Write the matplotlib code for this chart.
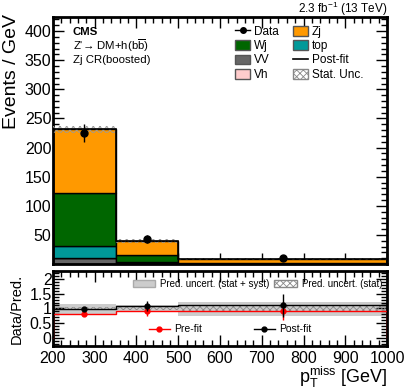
import numpy as np
import matplotlib
matplotlib.use("Agg")
import matplotlib.pyplot as plt
from matplotlib.ticker import MultipleLocator
from matplotlib.patches import Patch
from matplotlib.lines import Line2D

plt.rcParams['font.family'] = ['Liberation Sans', 'DejaVu Sans']
plt.rcParams['mathtext.fontset'] = 'custom'
plt.rcParams['mathtext.rm'] = 'Liberation Sans'
plt.rcParams['mathtext.it'] = 'Liberation Sans:italic'
plt.rcParams['hatch.color'] = '#888888'
plt.rcParams['hatch.linewidth'] = 0.6

# ---- data ----
bin_edges = [200, 350, 500, 1000]
bin_centers = [275, 425, 750]
bkg_names = ["VV", "Vh", "top", "Wj", "Zj"]
vv = [10, 1.0, 0.2]
vh = [0.5, 0.2, 0.05]
top = [21, 2.5, 0.5]
wj = [91, 11.3, 1.8]
zj = [109, 24, 6.0]
stat_unc = [6, 3.5, 1.0]
data_vals = [225, 43, 10.5]
data_errs = [15.5, 6.5, 1.5]

ratio_post = [0.97, 1.07, 1.10]
ratio_post_err = [0.06, 0.17, 0.37]
ratio_pre = [0.81, 0.90, 0.91]
ratio_pre_err = [0.05, 0.15, 0.30]
band_syst_lo = [0.80, 0.90, 0.75]
band_syst_hi = [1.16, 1.10, 1.22]
band_stat = [0.04, 0.06, 0.10]

colors = {"VV": "#666666", "Vh": "#ffcccc", "top": "#009999", "Wj": "#006600", "Zj": "#ff9900"}

fig = plt.figure(figsize=(4.07, 3.89), dpi=100)
ax = fig.add_axes([0.130, 0.321, 0.821, 0.635])
rx = fig.add_axes([0.130, 0.111, 0.821, 0.192])

edges = np.array(bin_edges, dtype=float)
widths = np.diff(edges)
bottom = np.zeros(3)
for name, vals in zip(bkg_names, [vv, vh, top, wj, zj]):
    vals = np.array(vals, dtype=float)
    ax.bar(edges[:-1], vals, width=widths, bottom=bottom, align='edge',
           color=colors[name], edgecolor='black', linewidth=1.0, zorder=2)
    bottom = bottom + vals
total = bottom
su = np.array(stat_unc)
ax.bar(edges[:-1], 2 * su, width=widths, bottom=total - su, align='edge',
       facecolor='none', edgecolor='#999999', hatch='xxxxx', linewidth=0, zorder=3)
ax.stairs(total, edges, color='black', linewidth=1.2, zorder=4)
ax.errorbar(bin_centers, data_vals, yerr=data_errs, fmt='o', color='black',
            markersize=5, elinewidth=1, capsize=0, zorder=5)

ax.set_xlim(200, 1000)
ax.set_ylim(0.01, 424)
ax.set_yticks([50, 100, 150, 200, 250, 300, 350, 400])
ax.yaxis.set_minor_locator(MultipleLocator(10))
ax.xaxis.set_major_locator(MultipleLocator(100))
ax.xaxis.set_minor_locator(MultipleLocator(20))
ax.tick_params(axis='both', which='both', direction='in', top=True, right=True)
ax.tick_params(which='major', length=8, width=1)
ax.tick_params(which='minor', length=4, width=1)
ax.tick_params(axis='y', labelsize=11.5, pad=1)
ax.tick_params(axis='x', labelbottom=False)
for s in ax.spines.values():
    s.set_linewidth(2)
ax.set_ylabel("Events / GeV", fontsize=14)
ax.yaxis.set_label_coords(-0.099, 0.78)

ax.text(0.06, 0.940, "CMS", transform=ax.transAxes, fontsize=8.2, fontweight='bold', va='center')
ax.text(0.06, 0.884, "Z'\u2192 DM+h(b$\\overline{\\mathrm{b}}$)", transform=ax.transAxes,
        fontsize=8.2, va='center')
ax.text(0.06, 0.826, "Zj CR(boosted)", transform=ax.transAxes, fontsize=8.2, va='center')
fig.text(0.951, 0.978, r"2.3 fb$^{-1}$ (13 TeV)", ha='right', va='center', fontsize=8.5)

# column-major order for a 2-column legend
handles = [
    Line2D([], [], color='black', marker='o', markersize=4, linewidth=1),
    Patch(facecolor=colors["Wj"], edgecolor='#555555'),
    Patch(facecolor=colors["VV"], edgecolor='#555555'),
    Patch(facecolor=colors["Vh"], edgecolor='#555555'),
    Patch(facecolor=colors["Zj"], edgecolor='#555555'),
    Patch(facecolor=colors["top"], edgecolor='#555555'),
    Line2D([], [], color='black', linewidth=1.2),
    Patch(facecolor='white', edgecolor='#888888', hatch='xxxxx'),
]
labels = ["Data", "Wj", "VV", "Vh", "Zj", "top", "Post-fit", "Stat. Unc."]
ax.legend(handles, labels, ncol=2, loc='upper left', bbox_to_anchor=(0.545, 0.965),
          frameon=False, fontsize=8.5, handlelength=1.3, handleheight=0.9,
          handletextpad=0.3, columnspacing=1.2, labelspacing=0.2, borderaxespad=0, borderpad=0)

# ---- ratio ----
for i in range(3):
    rx.fill_between([edges[i], edges[i + 1]], band_syst_lo[i], band_syst_hi[i],
                    color='#cccccc', linewidth=0, zorder=1)
    rx.fill_between([edges[i], edges[i + 1]], 1 - band_stat[i], 1 + band_stat[i],
                    facecolor='none', edgecolor='#888888', hatch='xxxxx', linewidth=0, zorder=2)
rx.stairs(ratio_pre, edges, color='red', linewidth=1, zorder=3)
rx.stairs(ratio_post, edges, color='black', linewidth=1, zorder=4)
rx.errorbar(bin_centers, ratio_pre, yerr=ratio_pre_err, fmt='o', color='red',
            markersize=3.5, elinewidth=1, capsize=0, zorder=5)
rx.errorbar(bin_centers, ratio_post, yerr=ratio_post_err, fmt='o', color='black',
            markersize=3.5, elinewidth=1, capsize=0, zorder=6)
rx.set_xlim(200, 1000)
rx.set_ylim(-0.25, 2.25)
rx.set_yticks([0, 0.5, 1, 1.5, 2])
rx.set_yticklabels(["0", "0.5", "1", "1.5", "2"])
rx.yaxis.set_minor_locator(MultipleLocator(0.1))
rx.xaxis.set_major_locator(MultipleLocator(100))
rx.xaxis.set_minor_locator(MultipleLocator(20))
rx.tick_params(axis='both', which='both', direction='in', top=True, right=True)
rx.tick_params(which='major', length=8, width=1)
rx.tick_params(which='minor', length=4, width=1)
rx.tick_params(axis='both', labelsize=11.5, pad=1)
rx.tick_params(axis='x', pad=4)
for s in rx.spines.values():
    s.set_linewidth(2)
rx.set_ylabel("Data/Pred.", fontsize=10.5)
rx.yaxis.set_label_coords(-0.086, 0.5)
rx.set_xlabel(r"p$_{\mathrm{T}}^{\mathrm{miss}}$ [GeV]", fontsize=13, loc='right', labelpad=-1)

h2 = [Line2D([], [], color='red', marker='o', markersize=3.5, linewidth=1),
      Line2D([], [], color='black', marker='o', markersize=3.5, linewidth=1)]
leg2 = rx.legend(h2, ["Pre-fit", "Post-fit"], ncol=2, loc='center', bbox_to_anchor=(0.53, 0.22),
                 frameon=False, fontsize=7.5, handlelength=2.0, handletextpad=0.4, columnspacing=5)
rx.add_artist(leg2)
h1 = [Patch(facecolor='#cccccc', edgecolor='#aaaaaa'),
      Patch(facecolor='white', edgecolor='#888888', hatch='xxxxx')]
rx.legend(h1, ["Pred. uncert. (stat + syst)", "Pred. uncert. (stat)"], ncol=2,
          loc='upper right', bbox_to_anchor=(0.985, 0.9), frameon=False, fontsize=7,
          handlelength=2.3, handleheight=0.8, handletextpad=0.5, columnspacing=0.5,
          borderaxespad=0, borderpad=0)

fig.savefig("out.png", dpi=100)
